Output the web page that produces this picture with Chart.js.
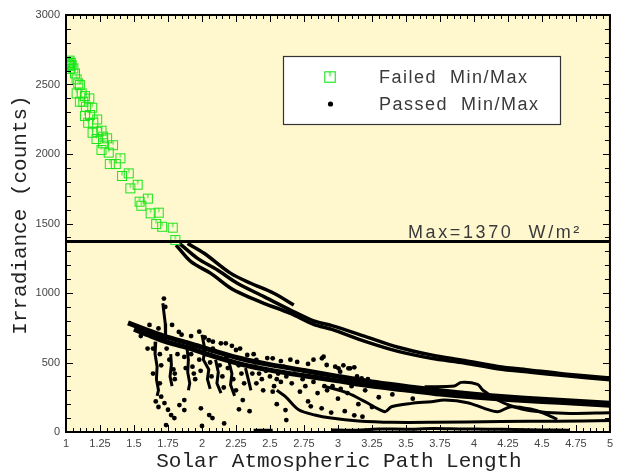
<!DOCTYPE html>
<html>
<head>
<meta charset="utf-8">
<script src="https://cdn.jsdelivr.net/npm/chart.js@4.4.0/dist/chart.umd.min.js"></script>
<style>
  html, body { margin: 0; background: #fff; }
</style>
</head>
<body>
<canvas id="chart" width="618" height="475"></canvas>
<script>
// axis ticks
const xTicks = [1, 1.25, 1.5, 1.75, 2, 2.25, 2.5, 2.75, 3, 3.25, 3.5, 3.75, 4, 4.25, 4.5, 4.75, 5];
const yTicks = [0, 500, 1000, 1500, 2000, 2500, 3000];
const maxIrradiance = 1370;

// failed min/max points (green squares)
const failedPts = [
  [1.018,2660],[1.022,2645],[1.026,2672],[1.030,2632],[1.035,2655],[1.028,2612],[1.041,2640],
  [1.054,2616],[1.066,2580],[1.078,2537],[1.090,2508],[1.102,2496],[1.078,2436],[1.115,2436],
  [1.139,2417],[1.171,2400],[1.102,2376],[1.127,2376],[1.146,2340],[1.193,2333],[1.139,2273],
  [1.176,2281],[1.200,2225],[1.229,2249],[1.163,2225],[1.195,2153],[1.229,2160],[1.261,2168],
  [1.224,2108],[1.273,2125],[1.302,2113],[1.273,2077],[1.346,2063],[1.261,2029],[1.314,2010],
  [1.400,1969],[1.322,1928],[1.366,1928],[1.412,1842],[1.461,1861],[1.473,1753],[1.527,1779],
  [1.541,1657],[1.602,1679],[1.554,1628],[1.622,1573],[1.682,1578],[1.663,1496],[1.707,1477],
  [1.785,1470],[1.804,1381]
];

// passed min/max traces (black)
const upperA = [[1.894,1357],[2.016,1286],[2.212,1141],[2.358,1070],[2.528,998],[2.675,914]];
const upperB = [[1.834,1357],[1.967,1249],[2.114,1165],[2.260,1070],[2.455,974],[2.650,878],
  [2.821,800],[2.955,765],[3.199,688],[3.442,610],[3.686,555],[3.930,515],[4.174,472],
  [4.417,445],[4.661,418],[5.0,388]];
const upperC = [[1.809,1345],[1.919,1225],[2.065,1141],[2.212,1034],[2.309,986],[2.455,926],
  [2.650,854],[2.821,775],[2.955,738],[3.199,652],[3.442,580],[3.686,530],[3.930,497],
  [4.174,455],[4.417,430],[4.661,406],[5.0,376]];
const bandU = [[1.456,785],[1.60,732],[1.75,680],[1.90,640],[2.10,580],[2.30,525],[2.50,485],
  [2.75,443],[3.0,400],[3.25,360],[3.5,328],[3.75,297],[4.0,272],[4.25,252],[4.5,236],
  [4.75,221],[5.0,207]];
const bandL = [[1.50,740],[1.60,700],[1.75,645],[1.90,605],[2.10,540],[2.30,485],[2.50,445],
  [2.75,405],[3.0,368],[3.25,330],[3.5,302],[3.75,273],[4.0,252],[4.25,234],[4.5,220],
  [4.75,207],[5.0,193]];
const wavy1 = [[2.90,330],[3.077,278],[3.199,218],[3.345,146],[3.393,182],[3.540,206],[3.686,218],
  [3.784,230],[3.954,211],[4.076,170],[4.174,146],[4.271,182],[4.417,165],[4.515,134],[4.612,91]];
const wavy2 = [[3.637,326],[3.857,331],[3.906,357],[4.027,343],[4.064,302],[4.174,230],[4.271,189],
  [4.417,153],[4.661,134],[5.0,139]];
const lowCurve = [[2.55,300],[2.614,254],[2.711,160],[2.83,122],[2.95,100],[3.15,80],[3.4,70],
  [3.7,70],[4.2,75],[4.6,78],[5.0,82]];
const floorCurve = [[2.95,15],[3.1,12],[3.3,22],[3.5,20],[3.7,25],[3.9,22],[4.1,20],[4.3,18],
  [4.5,15],[4.7,12]];
const streaks = [
  [[1.66,650],[1.655,560],[1.67,470],[1.665,380],[1.68,300],[1.67,260]],
  [[1.712,926],[1.72,860],[1.73,780],[1.735,700],[1.73,640]],
  [[1.77,560],[1.775,480],[1.765,400],[1.78,330]],
  [[1.89,600],[1.90,520],[1.895,430],[1.91,350],[1.90,300]],
  [[2.00,700],[2.02,600],[2.01,520],[2.05,450],[2.04,380],[2.06,310]],
  [[2.10,520],[2.12,430],[2.11,350],[2.14,280]],
  [[2.20,500],[2.22,420],[2.21,340],[2.24,260]],
  [[2.32,460],[2.34,380],[2.36,300]],
  [[2.38,12],[2.52,12]]
];
const passedDots = [
  [1.70,254],[1.724,208],[1.773,122],[1.797,100],[1.87,230],[1.834,194],[1.87,158],[1.992,170],
  [2.053,122],[2.077,100],[1.736,50],[2.0,43],[2.272,163],[2.163,62],[2.62,86],[2.614,158],
  [2.45,300],[2.52,290],[2.72,290],[2.78,220],[2.80,185],[2.88,170],[2.95,140],[3.05,150],
  [3.12,120],[3.18,110],[2.139,638],[2.333,554],[2.40,518],[2.48,532],[2.70,504],[2.894,542],
  [2.917,482],[3.016,434],[3.089,458],[2.882,530],[3.004,458],[3.077,458],[3.174,386],[1.614,770],
  [1.78,770],[1.98,722],[2.175,638],[1.55,690],[1.62,720],[1.68,745],[1.85,700],[2.05,660],
  [2.25,590],[2.60,470],[2.65,520],[3.10,330],[3.20,300],[3.30,250],[3.25,180],[3.40,270],
  [3.55,240],[2.40,350],[2.55,380],[2.30,230],[2.35,150],[1.95,380],[1.80,420],[1.60,600],
  [2.85,280],[3.0,240],[3.15,200],[2.90,330],[2.55,200],[1.66,220],[1.68,180],[1.75,160],
  [1.64,600],[1.69,560],[1.70,480],[1.64,420],[1.69,350],[1.74,600],[1.76,520],[1.79,450],
  [1.80,380],[1.82,560],[1.84,620],[1.87,540],[1.88,460],[1.92,560],[1.93,470],[1.94,420],
  [1.96,620],[1.98,520],[1.99,440],[2.03,560],[2.06,500],[2.07,400],[2.08,600],[2.13,480],
  [2.15,400],[2.16,320],[2.18,540],[2.19,460],[2.23,380],[2.25,300],[2.27,480],[2.29,420],
  [2.31,350],[2.37,420],[2.39,470],[2.42,420],[2.44,380],[2.47,440],[2.50,400],[2.53,330],
  [2.56,420],[2.58,360],[2.62,400],[2.66,350],[2.68,420],[2.74,380],[2.76,330],[2.82,360],
  [2.86,390],[2.92,300],[2.96,330],[3.02,310],[3.07,280],[1.72,960],[1.73,900],[1.83,720],
  [1.92,690],[2.02,680],[2.08,650],[2.22,620],[2.28,600],[2.38,560],[2.52,530],[2.58,510],
  [2.78,490],[2.82,520],[2.98,470],[3.04,480],[3.12,465],[3.14,400],[3.22,380],[3.28,350]
];

function pts(arr) {
  return arr.map(p => ({ x: p[0], y: p[1] }));
}

// failed marker: square with a little tick from the top
const green = 'rgb(25,230,25)';
const sq = document.createElement('canvas');
sq.width = 12; sq.height = 12;
(function () {
  const c = sq.getContext('2d');
  c.strokeStyle = green;
  c.lineWidth = 1;
  c.strokeRect(1.5, 1.5, 9, 9);
  c.beginPath();
  c.moveTo(6, 1.5);
  c.lineTo(6, 5.5);
  c.stroke();
})();

function traceSet(arr, w) {
  return {
    data: pts(arr), showLine: true, borderColor: '#000', borderWidth: w,
    pointRadius: 0, tension: 0.3, spanGaps: false
  };
}

const streakData = [];
streaks.forEach(s => {
  streakData.push(...pts(s));
  streakData.push({ x: s[s.length - 1][0], y: null });
});

const decorPlugin = {
  id: 'decor',
  beforeDraw(chart) {
    const { ctx, chartArea: a } = chart;
    ctx.save();
    ctx.fillStyle = '#fff';
    ctx.fillRect(0, 0, chart.width, chart.height);
    ctx.fillStyle = '#fff8cf';
    ctx.fillRect(a.left, a.top, a.right - a.left, a.bottom - a.top);
    ctx.restore();
  },
  afterDraw(chart) {
    const { ctx, chartArea: a, scales } = chart;
    const xs = scales.x, ys = scales.y;
    ctx.save();
    // frame
    ctx.strokeStyle = '#000';
    ctx.lineWidth = 2;
    ctx.strokeRect(a.left, a.top, a.right - a.left, a.bottom - a.top);
    // inward ticks
    ctx.lineWidth = 1;
    ctx.beginPath();
    for (let i = 0; i <= 80; i++) {
      const v = 1 + i * 0.05;
      const px = Math.round(xs.getPixelForValue(v)) + 0.5;
      const len = i % 5 === 0 ? 7 : 4;
      ctx.moveTo(px, a.bottom); ctx.lineTo(px, a.bottom - len);
      ctx.moveTo(px, a.top); ctx.lineTo(px, a.top + len);
    }
    for (let i = 0; i <= 30; i++) {
      const v = i * 100;
      const py = Math.round(ys.getPixelForValue(v)) + 0.5;
      const len = i % 5 === 0 ? 7 : 5;
      ctx.moveTo(a.left, py); ctx.lineTo(a.left + len, py);
      ctx.moveTo(a.right, py); ctx.lineTo(a.right - len, py);
    }
    ctx.stroke();

    // axis titles
    ctx.fillStyle = '#222';
    ctx.font = '21px "Liberation Mono"';
    ctx.textAlign = 'center';
    ctx.textBaseline = 'middle';
    ctx.fillText('Solar Atmospheric Path Length', (a.left + a.right) / 2 + 1, 461);
    ctx.save();
    ctx.translate(20, 215);
    ctx.rotate(-Math.PI / 2);
    ctx.fillText('Irradiance (counts)', 0, 0);
    ctx.restore();

    // max label
    ctx.font = '18px "Liberation Sans"';
    ctx.letterSpacing = '2.6px';
    ctx.fillStyle = '#3a3a3a';
    ctx.textAlign = 'left';
    ctx.textBaseline = 'alphabetic';
    ctx.fillText('Max=' + maxIrradiance + '  W/m\u00B2', 408, ys.getPixelForValue(maxIrradiance) - 4);

    // legend
    ctx.letterSpacing = '1.5px';
    ctx.fillStyle = '#fff';
    ctx.fillRect(283, 56, 277, 68);
    ctx.strokeStyle = '#333';
    ctx.lineWidth = 1.2;
    ctx.strokeRect(283.5, 56.5, 277, 68);
    ctx.drawImage(sq, 323, 70, 14, 14);
    ctx.fillStyle = '#000';
    ctx.beginPath();
    ctx.arc(330.5, 104, 2.6, 0, Math.PI * 2);
    ctx.fill();
    ctx.fillStyle = '#3a3a3a';
    ctx.textBaseline = 'middle';
    ctx.fillText('Failed  Min/Max', 379, 78);
    ctx.fillText('Passed  Min/Max', 379, 105);
    ctx.restore();
  }
};

new Chart(document.getElementById('chart'), {
  type: 'scatter',
  data: {
    datasets: [
      {
        data: [{ x: 1, y: maxIrradiance }, { x: 5, y: maxIrradiance }],
        showLine: true, borderColor: '#000', borderWidth: 3, pointRadius: 0
      },
      {
        data: pts(failedPts), pointStyle: sq, pointRadius: 6
      },
      traceSet(upperA, 3.5),
      traceSet(upperB, 3.5),
      traceSet(upperC, 3.5),
      traceSet(bandU, 5),
      traceSet(bandL, 5),
      traceSet(wavy1, 3),
      traceSet(wavy2, 3),
      traceSet(lowCurve, 3),
      traceSet(floorCurve, 3),
      {
        data: streakData, showLine: true, borderColor: '#000', borderWidth: 3,
        pointRadius: 0, tension: 0, spanGaps: false
      },
      {
        data: pts(passedDots), pointRadius: 2.4, backgroundColor: '#000',
        borderWidth: 0
      }
    ]
  },
  options: {
    responsive: false,
    animation: false,
    devicePixelRatio: 1,
    layout: { padding: { top: 15, right: 5, left: 0, bottom: 0 } },
    plugins: { legend: { display: false }, tooltip: { enabled: false } },
    scales: {
      x: {
        type: 'linear', min: 1, max: 5,
        afterBuildTicks: s => { s.ticks = xTicks.map(v => ({ value: v })); },
        afterFit: s => { s.height = 43; },
        grid: { display: false, drawTicks: false },
        border: { display: false },
        ticks: {
          padding: 5, color: '#444', maxRotation: 0, autoSkip: false,
          font: { family: 'Liberation Sans', size: 11 },
          callback: v => String(v)
        }
      },
      y: {
        type: 'linear', min: 0, max: 3000,
        afterBuildTicks: s => { s.ticks = yTicks.map(v => ({ value: v })); },
        afterFit: s => { s.width = 66; },
        grid: { display: false, drawTicks: false },
        border: { display: false },
        ticks: {
          padding: 6, color: '#444',
          font: { family: 'Liberation Sans', size: 11 },
          callback: v => String(v)
        }
      }
    }
  },
  plugins: [decorPlugin]
});
</script>
</body>
</html>
